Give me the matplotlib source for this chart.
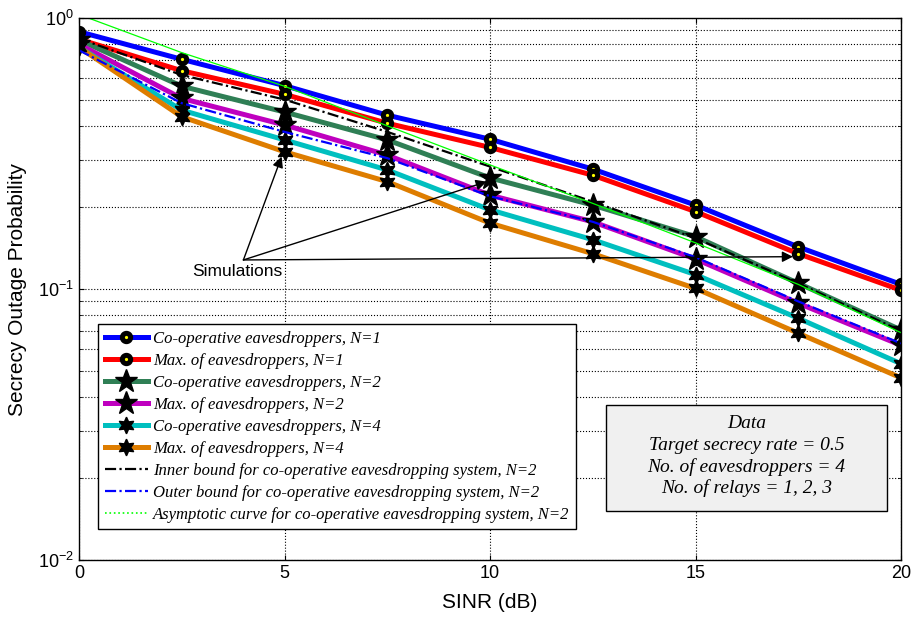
import matplotlib.pyplot as plt
from matplotlib.patches import Rectangle

plt.rcParams['font.family'] = ['Liberation Sans', 'DejaVu Sans']
plt.rcParams['mathtext.default'] = 'regular'

# SINR points (dB)
snr = [0, 2.5, 5, 7.5, 10, 12.5, 15, 17.5, 20]

# secrecy outage probability
coop_n1 = [0.89, 0.704, 0.563, 0.438, 0.357, 0.277, 0.204, 0.143, 0.104]
max_n1 = [0.835, 0.639, 0.523, 0.409, 0.333, 0.263, 0.193, 0.135, 0.099]
coop_n2 = [0.83, 0.56, 0.45, 0.355, 0.257, 0.204, 0.156, 0.105, 0.0706]
max_n2 = [0.80, 0.505, 0.403, 0.312, 0.222, 0.177, 0.129, 0.0886, 0.062]
coop_n4 = [0.78, 0.457, 0.355, 0.275, 0.196, 0.152, 0.113, 0.078, 0.053]
max_n4 = [0.78, 0.432, 0.321, 0.249, 0.175, 0.135, 0.1005, 0.0687, 0.047]
inner_n2 = [0.84, 0.616, 0.50, 0.38, 0.283, 0.21, 0.154, 0.105, 0.07]
outer_n2 = [0.76, 0.485, 0.38, 0.304, 0.22, 0.177, 0.131, 0.09, 0.063]
asym_n2 = [1.03, 0.745, 0.56, 0.40, 0.287, 0.207, 0.148, 0.104, 0.069]

labels = [
    "Co-operative eavesdroppers, N=1",
    "Max. of eavesdroppers, N=1",
    "Co-operative eavesdroppers, N=2",
    "Max. of eavesdroppers, N=2",
    "Co-operative eavesdroppers, N=4",
    "Max. of eavesdroppers, N=4",
    "Inner bound for co-operative eavesdropping system, N=2",
    "Outer bound for co-operative eavesdropping system, N=2",
    "Asymptotic curve for co-operative eavesdropping system, N=2",
]
data_lines = ["Data", "Target secrecy rate = 0.5",
              "No. of eavesdroppers = 4", "No. of relays = 1, 2, 3"]

W, H = 915, 626
fig = plt.figure(figsize=(W / 100, H / 100), dpi=100)
ax = fig.add_axes([79 / W, 1 - 560 / H, 822 / W, 542 / H])

circ = dict(marker='o', ms=6, mfc='yellow', mec='black', mew=3.6)
star5 = dict(marker='*', ms=17, mfc='black', mec='black')
star6 = dict(marker=(6, 1, 0), ms=12, mfc='black', mec='black')

ax.plot(snr, coop_n1, color='#0000ff', lw=3.6, label=labels[0], **circ)
ax.plot(snr, max_n1, color='#ff0000', lw=3.6, label=labels[1], **circ)
ax.plot(snr, coop_n2, color='#2f7f55', lw=3.6, label=labels[2], **star5)
ax.plot(snr, max_n2, color='#bf00bf', lw=3.6, label=labels[3], **star5)
ax.plot(snr, coop_n4, color='#00bfbf', lw=3.6, label=labels[4], **star6)
ax.plot(snr, max_n4, color='#de7d00', lw=3.6, label=labels[5], **star6)
ax.plot(snr, inner_n2, color='black', lw=1.6, ls=(0, (5, 1.5, 1, 1.5)), label=labels[6])
ax.plot(snr, outer_n2, color='#0000ff', lw=1.6, ls=(0, (5, 1.5, 1, 1.5)), label=labels[7])
# asymptote looks solid in the plot, dotted in the legend
ax.plot(snr, asym_n2, color='#00ff00', lw=0.9)
ax.plot([], [], color='#00ff00', lw=1.2, ls=':', label=labels[8])

ax.set_yscale('log')
ax.set_xlim(0, 20)
ax.set_ylim(0.01, 1)
ax.set_xticks([0, 5, 10, 15, 20])
ax.grid(True, which='both', axis='y', color='black', ls=':', lw=0.8)
ax.grid(True, which='major', axis='x', color='black', ls=':', lw=0.8)
ax.tick_params(which='both', direction='in', top=True, right=True, labelsize=13)
for s in ax.spines.values():
    s.set_linewidth(1.0)

ax.set_xlabel("SINR (dB)", fontsize=15, labelpad=8)
ax.set_ylabel("Secrecy Outage Probability", fontsize=15, labelpad=8)

# simulation annotation
ax.text(4.94, 0.1156, "Simulations", fontsize=12.5, ha='right', va='center')
for head in [(4.93, 0.308), (9.92, 0.249), (17.37, 0.1316)]:
    ax.annotate("", xy=head, xytext=(4.0, 0.128),
                arrowprops=dict(arrowstyle='-|>', color='black', lw=1,
                                mutation_scale=16, shrinkA=0, shrinkB=0))

leg = ax.legend(loc='upper left', bbox_to_anchor=(98 / W, 1 - 324 / H),
                bbox_transform=fig.transFigure, borderaxespad=0,
                prop=dict(family='Liberation Serif', style='italic', size=12),
                fancybox=False, framealpha=1, edgecolor='black',
                handlelength=2.6, handletextpad=0.3, labelspacing=0.36,
                borderpad=0.4, numpoints=1)
leg.get_frame().set_linewidth(1.0)

# data box
fig.patches.append(Rectangle((606 / W, 1 - 511 / H), 281 / W, 106 / H,
                             transform=fig.transFigure, facecolor='#f0f0f0',
                             edgecolor='black', lw=1, zorder=5))
for txt, yp in zip(data_lines, [423.3, 445, 466.7, 488.3]):
    fig.text(746.7 / W, 1 - yp / H, txt, ha='center', va='center',
             family='Liberation Serif', style='italic', fontsize=14, zorder=6)

fig.savefig("out.png", dpi=100)
